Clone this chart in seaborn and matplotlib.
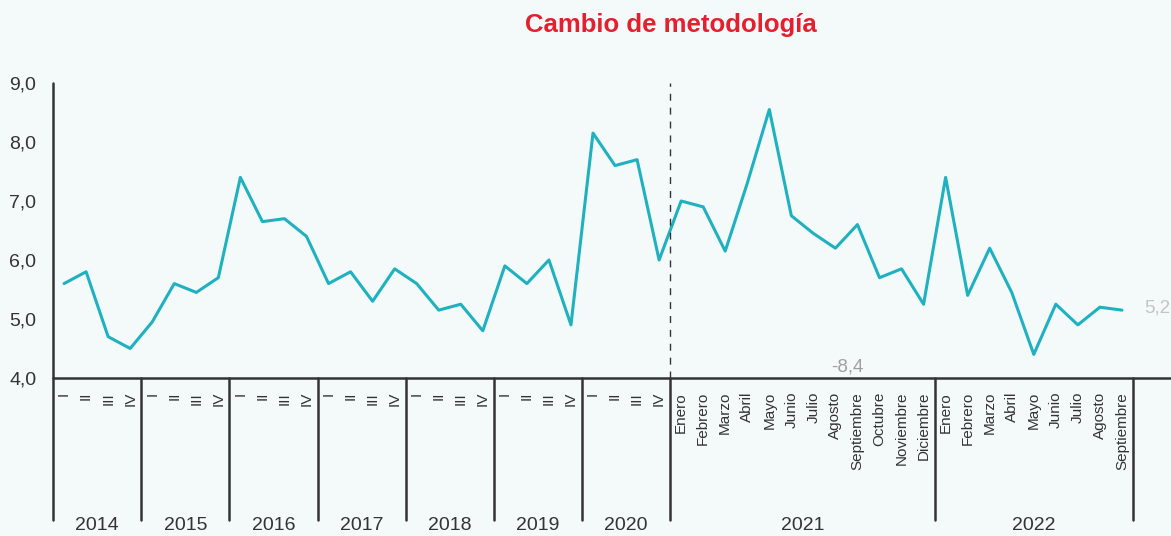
import pandas as pd
import seaborn as sns
import matplotlib.pyplot as plt

# quarterly series 2014-2020, monthly 2021-2022
years_q = ['2014', '2015', '2016', '2017', '2018', '2019', '2020']
quarter_labels = ['I', 'II', 'III', 'IV']
values_q = [5.6, 5.8, 4.7, 4.5,
            4.95, 5.6, 5.45, 5.7,
            7.4, 6.65, 6.7, 6.4,
            5.6, 5.8, 5.3, 5.85,
            5.6, 5.15, 5.25, 4.8,
            5.9, 5.6, 6.0, 4.9,
            8.15, 7.6, 7.7, 6.0]
months = ['Enero', 'Febrero', 'Marzo', 'Abril', 'Mayo', 'Junio', 'Julio',
          'Agosto', 'Septiembre', 'Octubre', 'Noviembre', 'Diciembre']
values_2021 = [7.0, 6.9, 6.15, 7.3, 8.55, 6.75, 6.45, 6.2, 6.6, 5.7, 5.85, 5.25]
values_2022 = [7.4, 5.4, 6.2, 5.45, 4.4, 5.25, 4.9, 5.2, 5.15]
last_label = '5,2'
change_label = '-8,4'
title = 'Cambio de metodología'

bg = '#f4fafa'
dark = '#333333'

tick_labels = quarter_labels * len(years_q) + months + months[:len(values_2022)]
values = values_q + values_2021 + values_2022
df = pd.DataFrame({'pos': range(len(values)), 'valor': values})

# group spans (start, size, label)
groups = [(i * 4, 4, y) for i, y in enumerate(years_q)]
groups.append((len(values_q), 12, '2021'))
groups.append((len(values_q) + 12, len(values_2022), '2022'))

sns.set_theme(style='white')
plt.rcParams['font.family'] = ['Liberation Sans', 'DejaVu Sans']

fig = plt.figure(figsize=(11.71, 5.36), dpi=100, facecolor=bg)
ax = fig.add_axes([0.0453, 0.2948, 0.9222, 0.5504])
ax.set_facecolor(bg)

sns.lineplot(data=df, x='pos', y='valor', color='#1fb1bf', lw=2.2, ax=ax)

n = len(values)
ax.set_xlim(-0.5, n - 0.5)
ax.set_ylim(4.0, 9.0)

for s in ['top', 'right', 'left', 'bottom']:
    ax.spines[s].set_visible(False)

# axes lines
ax.plot([-0.5, n + 1.7], [4.0, 4.0], color=dark, lw=1.8, clip_on=False)
ax.plot([-0.5, -0.5], [9.0, 1.6], color=dark, lw=1.8, clip_on=False)
for start, size, lab in groups:
    end = start + size - 0.5
    ax.plot([end, end], [4.0, 1.6], color=dark, lw=1.8, clip_on=False)
    ax.text(start - 0.5 + size / 2, 1.5, lab, ha='center', va='center',
            fontsize=14, color=dark, clip_on=False)

# methodology change marker
ax.plot([len(values_q) - 0.5] * 2, [4.0, 9.0], color=dark, lw=1.0,
        ls=(0, (5, 5)), clip_on=False)
fig.text(671 / 1171, 1 - 25 / 536, title, ha='center', va='center',
         fontsize=18.5, fontweight='bold', color='#e4202f')

ax.text(n - 0.5 + 1.7, values_2022[-1] + 0.04, last_label, ha='right', va='center',
        fontsize=13.5, color='#c4c4c4', clip_on=False)
ax.text(len(values_q) + 7.55, 4.05, change_label, ha='center', va='bottom',
        fontsize=13.5, color='#a0a0a0')

ax.set_yticks([4, 5, 6, 7, 8, 9])
ax.set_yticklabels(['4,0', '5,0', '6,0', '7,0', '8,0', '9,0'], fontsize=14, color=dark)
ax.set_xticks(range(n))
ax.set_xticklabels(tick_labels, rotation=90, fontsize=11, color=dark)
ax.tick_params(axis='y', length=0, pad=12)
ax.tick_params(axis='x', length=0, pad=10)
ax.set_xlabel('')
ax.set_ylabel('')

fig.savefig('out.png', dpi=100, facecolor=bg)
